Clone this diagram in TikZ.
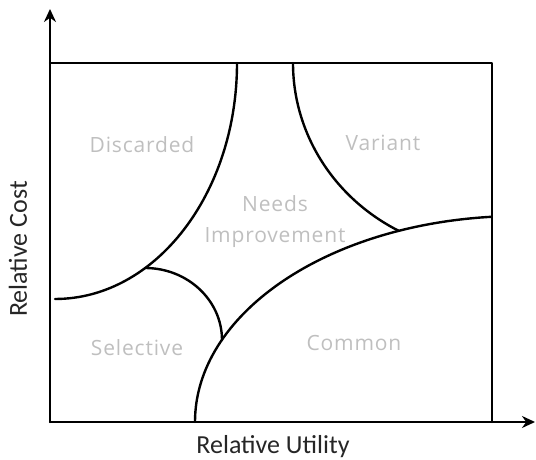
\documentclass[tikz,border=0pt]{standalone}
\usepackage{fontspec}
\usetikzlibrary{arrows.meta}
\setmainfont{Carlito}
\newfontfamily\regionfont[LetterSpace=4]{Open Sans}
\begin{document}
\begin{tikzpicture}[x=0.5pt, y=0.5pt, line join=round, line cap=round, >={Stealth[length=6.5pt, width=6pt]}, line width=1.2pt,
  region/.style={text=gray!50, font=\regionfont\fontsize{10.5}{15.5}\selectfont, align=center},
  axislabel/.style={text=black!85, font=\fontsize{13}{15}\selectfont}]
    \useasboundingbox (0,0) rectangle (536,460);
    \draw[->] (50,38) -- (535,38);
    \draw[->] (50,38) -- (50,451);
    \draw (50,397) -- (492,397) -- (492,38);
    \draw (237,397) arc[start angle=0, end angle=-90, x radius=182, y radius=236];
    \draw (293,397) arc[start angle=180, end angle=242, x radius=199, y radius=190];
    \draw (195,38) arc[start angle=180, end angle=95, x radius=325, y radius=206];
    \draw (145,192) arc[start angle=90, end angle=0, x radius=77, y radius=72];
    \node[axislabel] (utility) at (273,13) {Relative Utility};
    \node[axislabel, rotate=90] (cost) at (18,211) {Relative Cost};
    \node[region] (discarded) at (142,315) {Discarded};
    \node[region] (variant) at (383,317) {Variant};
    \node[region] (needs) at (275,238) {Needs\\Improvement};
    \node[region] (selective) at (137,112) {Selective};
    \node[region] (common) at (354,117) {Common};
\end{tikzpicture}
\end{document}
